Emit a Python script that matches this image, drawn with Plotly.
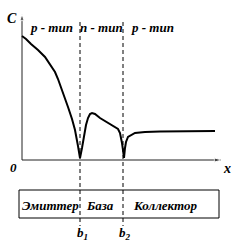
import plotly.graph_objects as go

# curve samples (x position, C value)
curve_x = [0, 4, 9, 16, 23, 28, 33, 36, 39, 42, 46, 50, 53, 56, 58,
           60, 62, 64, 66, 68, 70, 73, 78, 83, 88, 93, 96, 98, 99, 100, 101, 102,
           103, 104, 106, 109, 113, 123, 138, 193]
curve_c = [124, 121, 116, 110, 103, 96, 88, 81, 73, 65, 53, 41, 30, 14, 2,
           12, 24, 35, 42, 46, 47, 46, 42, 39, 36, 33, 31, 27, 23, 17, 10, 2,
           12, 18, 23, 25, 27, 28, 28.5, 29]

b_positions = [58, 101]
b_labels = ["b<sub>1</sub>", "b<sub>2</sub>"]
region_types = ["p - тип", "n - тип", "p - тип"]
region_type_x = [29, 79, 130]
layer_names = ["Эмиттер", "База", "Коллектор"]
layer_x = [28, 78, 143]

FONT = "Liberation Serif"

fig = go.Figure()
# axes with arrow heads
fig.add_trace(go.Scatter(x=[0, 199], y=[0, 0], mode="lines+markers",
                         line=dict(color="#222", width=1),
                         marker=dict(symbol="arrow", angle=90, size=[0, 7], color="#222"),
                         hoverinfo="skip"))
fig.add_trace(go.Scatter(x=[0, 0], y=[0, 146], mode="lines+markers",
                         line=dict(color="#222", width=1),
                         marker=dict(symbol="arrow", angle=0, size=[0, 7], color="#222"),
                         hoverinfo="skip"))
fig.add_trace(go.Scatter(x=curve_x, y=curve_c, mode="lines",
                         line=dict(color="black", width=2), hoverinfo="skip"))
for b in b_positions:
    fig.add_trace(go.Scatter(x=[b, b], y=[138, -66], mode="lines",
                             line=dict(color="black", width=1, dash="4px,3px"),
                             hoverinfo="skip"))

shapes = [dict(type="rect", xref="x", yref="y", x0=-3, x1=197, y0=-30, y1=-58,
               line=dict(color="black", width=1), layer="below")]

ann = []

def txt(x, y, t, size=13):
    return dict(x=x, y=y, xref="x", yref="y", text="<b><i>" + t + "</i></b>", showarrow=False,
                font=dict(family=FONT, size=size, color="black"), xanchor="center", yanchor="middle")

for t, x in zip(region_types, region_type_x):
    ann.append(txt(x, 133, t))
for t, x in zip(layer_names, layer_x):
    ann.append(txt(x, -45, t))
for t, x in zip(b_labels, b_positions):
    ann.append(txt(x + 2, -73, t))
ann.append(txt(-10, 142, "C", 14))
ann.append(txt(-9, -7, "0", 13))
ann.append(txt(205, -8, "x", 14))

fig.update_layout(
    width=240, height=244, margin=dict(l=0, r=0, t=0, b=0),
    paper_bgcolor="white", plot_bgcolor="white", showlegend=False,
    xaxis=dict(range=[-22, 218], visible=False, fixedrange=True),
    yaxis=dict(range=[-84, 160], visible=False, fixedrange=True),
    shapes=shapes, annotations=ann,
)
fig.write_html("out.html")
